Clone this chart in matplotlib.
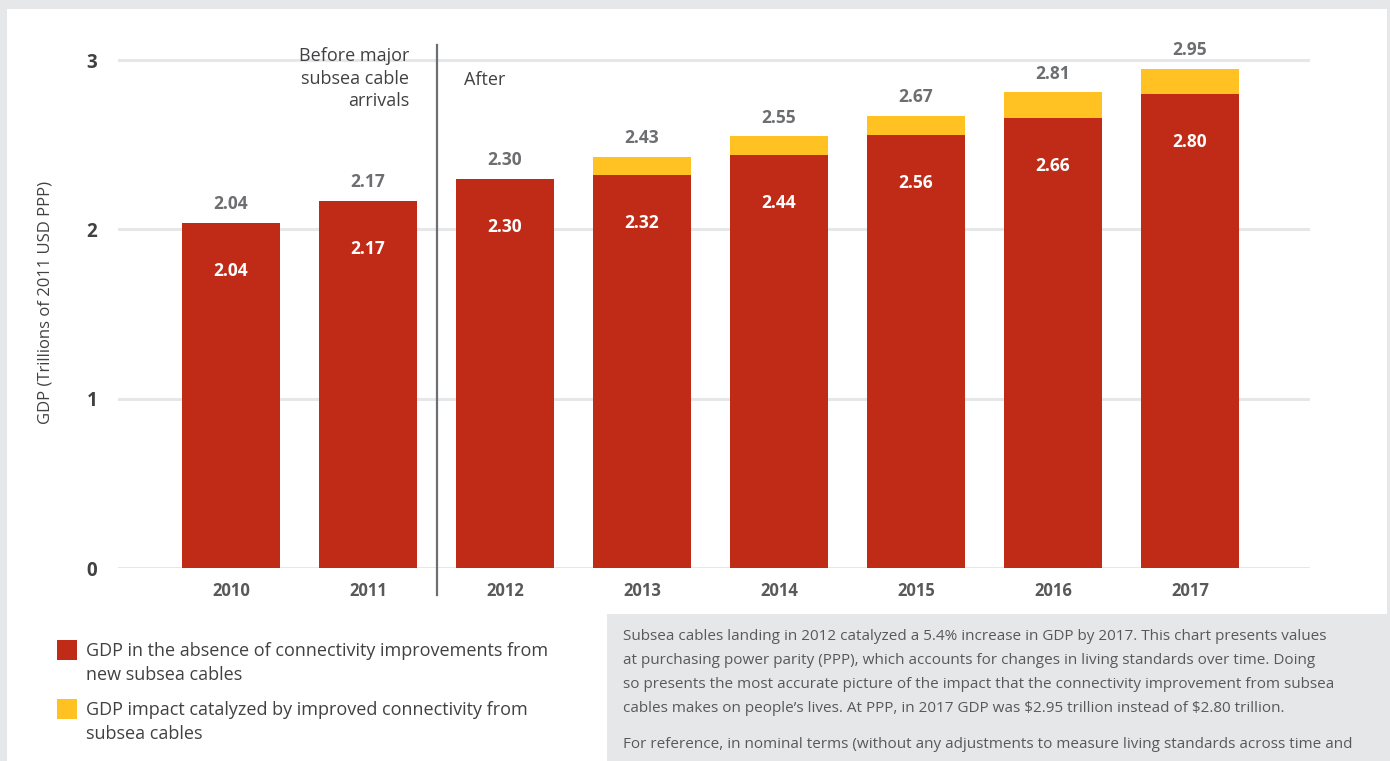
import matplotlib.pyplot as plt
from matplotlib.patches import Rectangle

plt.rcParams['font.family'] = ['Open Sans', 'DejaVu Sans']

years = ['2010', '2011', '2012', '2013', '2014', '2015', '2016', '2017']
base = [2.04, 2.17, 2.30, 2.32, 2.44, 2.56, 2.66, 2.80]
total = [2.04, 2.17, 2.30, 2.43, 2.55, 2.67, 2.81, 2.95]
impact = [t - b for t, b in zip(total, base)]

legend_labels = ['GDP in the absence of connectivity improvements from\nnew subsea cables',
                 'GDP impact catalyzed by improved connectivity from\nsubsea cables']
note_lines = [
    "Subsea cables landing in 2012 catalyzed a 5.4% increase in GDP by 2017. This chart presents values",
    "at purchasing power parity (PPP), which accounts for changes in living standards over time. Doing",
    "so presents the most accurate picture of the impact that the connectivity improvement from subsea",
    "cables makes on people\u2019s lives. At PPP, in 2017 GDP was \\$2.95 trillion instead of \\$2.80 trillion.",
]
note_lines2 = ["For reference, in nominal terms (without any adjustments to measure living standards across time and"]

red = '#c02b18'
yellow = '#ffc222'
grey_txt = '#6d6e71'
dark_txt = '#414042'
bg = '#e6e7e9'

W, H = 1390, 761
fig = plt.figure(figsize=(W / 100, H / 100), dpi=100, facecolor=bg)

def fx(px):
    return px / W

def fy(py):
    return 1 - py / H

# white panel
fig.patches.append(Rectangle((fx(7), 0), fx(1387 - 7), fy(9), transform=fig.transFigure,
                             facecolor='white', edgecolor='none', zorder=-3))
# grey note box
fig.patches.append(Rectangle((fx(607), 0), fx(1390 - 607), fy(614), transform=fig.transFigure,
                             facecolor=bg, edgecolor='none', zorder=-2))

ax = fig.add_axes([fx(118), fy(568), fx(1310 - 118), (568 - 30) / H])
ax.set_zorder(1)
ax.set_facecolor('none')
x = list(range(len(years)))
ax.bar(x, base, width=0.72, color=red, zorder=3)
ax.bar(x, impact, bottom=base, width=0.72, color=yellow, zorder=3)

for i in x:
    ax.text(i, total[i] + 0.11, f'{total[i]:.2f}', ha='center', va='center',
            fontsize=12.5, fontweight='bold', color=grey_txt)
    ax.text(i, base[i] - 0.285, f'{base[i]:.2f}', ha='center', va='center',
            fontsize=12.5, fontweight='bold', color='white', zorder=4)

ax.set_xlim(-0.825, 7.876)
ax.set_ylim(0, 3.178)
ax.set_yticks([0, 1, 2, 3])
ax.set_yticklabels(['0', '1', '2', '3'], fontsize=13.5, fontweight='bold', color=dark_txt)
ax.set_xticks(x)
ax.set_xticklabels(years, fontsize=12, fontweight='bold', color='#58595b')
ax.tick_params(axis='both', length=0)
ax.tick_params(axis='y', pad=15)
ax.tick_params(axis='x', pad=10)
ax.grid(axis='y', color=bg, linewidth=2.2, zorder=1)
for s in ax.spines.values():
    s.set_visible(False)

# divider
ax.plot([1.5, 1.5], [-0.16, 3.09], color=grey_txt, linewidth=1.6, clip_on=False, zorder=5)
ax.text(1.3, 3.075, 'Before major\nsubsea cable\narrivals', ha='right', va='top',
        fontsize=13, color=dark_txt, linespacing=1.3)
ax.text(1.7, 2.88, 'After', ha='left', va='center', fontsize=13, color=dark_txt)

fig.text(fx(46), fy(302), 'GDP (Trillions of 2011 USD PPP)', rotation=90, ha='center', va='center',
         fontsize=12, color=dark_txt)

# legend
for (py, col, lab) in [(640, red, legend_labels[0]), (699, yellow, legend_labels[1])]:
    fig.patches.append(Rectangle((fx(57), fy(py + 20)), fx(20), 20 / H, transform=fig.transFigure,
                                 facecolor=col, edgecolor='none'))
    fig.text(fx(86), fy(py + 2), lab, ha='left', va='top', fontsize=13, color=dark_txt,
             linespacing=1.45)

for k, line in enumerate(note_lines):
    fig.text(fx(623), fy(636 + 24 * k), line, ha='left', va='center', fontsize=11,
             color='#58595b')
for k, line in enumerate(note_lines2):
    fig.text(fx(623), fy(745 + 24 * k), line, ha='left', va='center', fontsize=11,
             color='#58595b')

fig.savefig('out.png', dpi=100, facecolor=bg)
